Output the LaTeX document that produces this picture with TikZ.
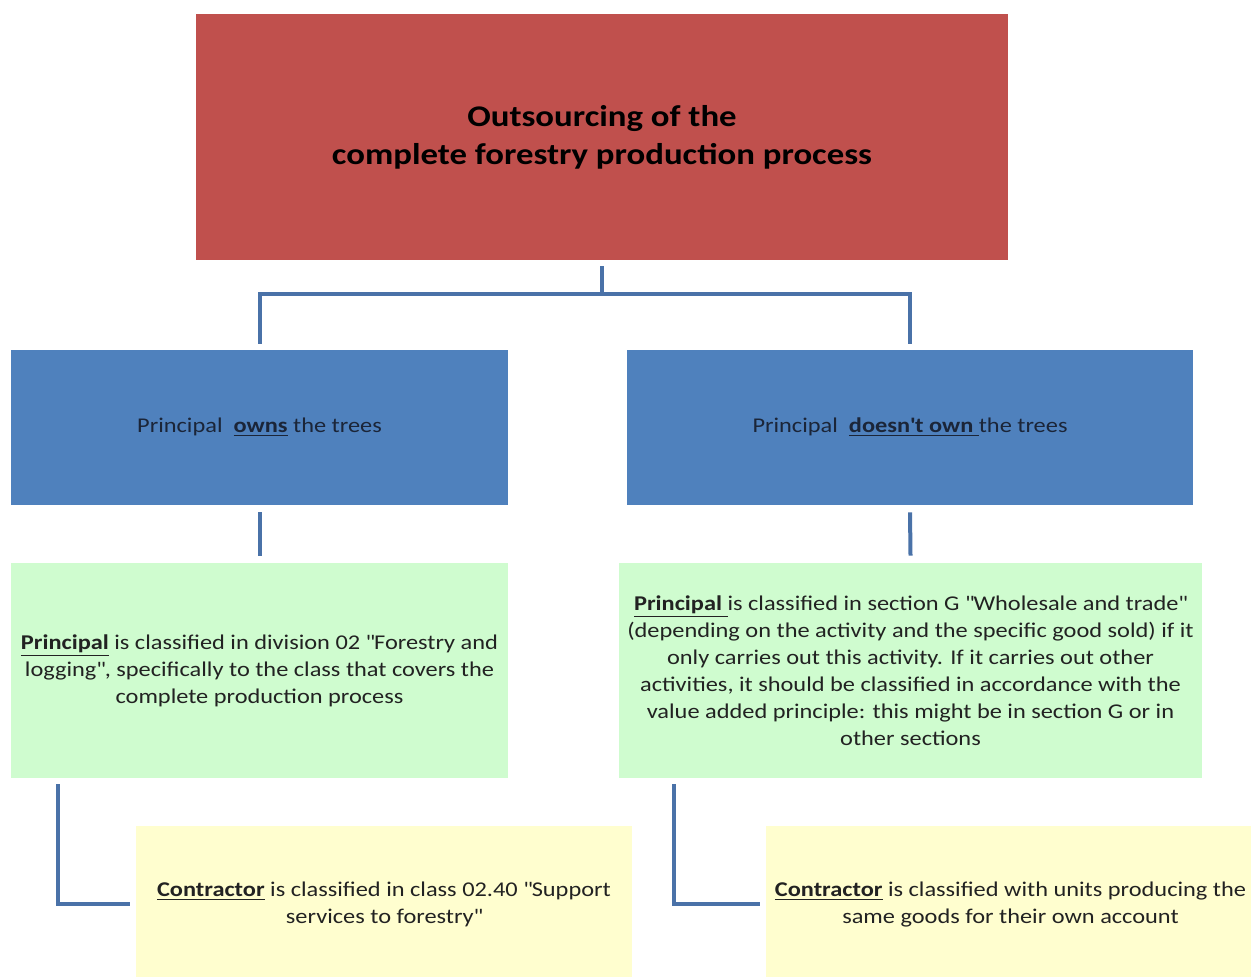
\documentclass[tikz,border=0pt]{standalone}
\usepackage{fontspec}
\setmainfont{Carlito}[FakeStretch=1.16]
\definecolor{topred}{HTML}{C0504D}
\definecolor{midblue}{HTML}{4F81BD}
\definecolor{lightgreen}{HTML}{CFFCCF}
\definecolor{lightyellow}{HTML}{FFFECF}
\definecolor{connblue}{HTML}{4A72A8}
\definecolor{navytext}{HTML}{1B2538}
\definecolor{bodytext}{HTML}{222222}
\newcommand{\dq}{\textquotedbl}
\newcommand{\ul}[1]{\underline{\textbf{#1}}}
\begin{document}
\begin{tikzpicture}[x=0.5pt,y=-0.5pt,
  box/.style={rectangle, inner sep=0pt, align=center, draw=none},
  redbox/.style={box, fill=topred, text=black, font=\fontsize{15}{19}\selectfont\bfseries},
  bluebox/.style={box, fill=midblue, text=navytext, font=\fontsize{10.5}{13.5}\selectfont},
  greenbox/.style={box, fill=lightgreen, text=bodytext, font=\fontsize{10.5}{13.5}\selectfont},
  yellowbox/.style={box, fill=lightyellow, text=bodytext, font=\fontsize{10.5}{13.5}\selectfont},
  conn/.style={draw=connblue, line width=2pt, line join=miter}
]
\useasboundingbox (0,0) rectangle (1251,976);
\fill[white] (0,0) rectangle (1251,976);

\node[redbox, minimum width=406pt, minimum height=123pt] (red) at (602,137)
  {Outsourcing of the\\complete forestry production process};

\node[bluebox, minimum width=248.5pt, minimum height=77.5pt] (bl) at (259.5,427.5)
  {Principal\ \ \ul{owns} the trees};
\node[bluebox, minimum width=283pt, minimum height=77.5pt] (br) at (910,427.5)
  {Principal\ \ \ul{doesn\textquotesingle t own }the trees};

\node[greenbox, minimum width=248.5pt, minimum height=107.5pt] (gl) at (259.5,670.5)
  {\ul{Principal} is classified in division 02 \dq Forestry and\\
   logging\dq, specifically to the class that covers the\\
   complete production process};
\node[greenbox, minimum width=291.5pt, minimum height=107.5pt] (gr) at (910.5,670.5)
  {\ul{Principal }is classified in section G \dq Wholesale and trade\dq\\
   (depending on the activity and the specific good sold) if it\\
   only carries out this activity. If it carries out other\\
   activities, it should be classified in accordance with the\\
   value added principle: this might be in section G or in\\
   other sections};

\node[yellowbox, minimum width=248pt, minimum height=78pt] (yl) at (384,904)
  {\ul{Contractor} is classified in class 02.40 \dq Support\\
   services to forestry\dq};
\node[yellowbox, minimum width=244.5pt, minimum height=78pt] (yr) at (1010.5,904)
  {\ul{Contractor} is classified with units producing the\\
   same goods for their own account};

\coordinate (j) at (602,294);
\draw[conn] ([yshift=-3pt]red.south) -- (j);
\draw[conn] ([yshift=3pt]bl.north) |- (j) -| ([yshift=3pt]br.north);
\draw[conn] ([yshift=-3.5pt]bl.south) -- ([yshift=3.5pt]gl.north);
\draw[conn] ([yshift=-3.5pt]br.south) -- ([yshift=3.5pt]gr.north);
\draw[conn] ([xshift=23.5pt,yshift=-3pt]gl.south west) |- ([xshift=-3pt]yl.west);
\draw[conn] ([xshift=27.5pt,yshift=-3pt]gr.south west) |- ([xshift=-3pt]yr.west);
\end{tikzpicture}
\end{document}
